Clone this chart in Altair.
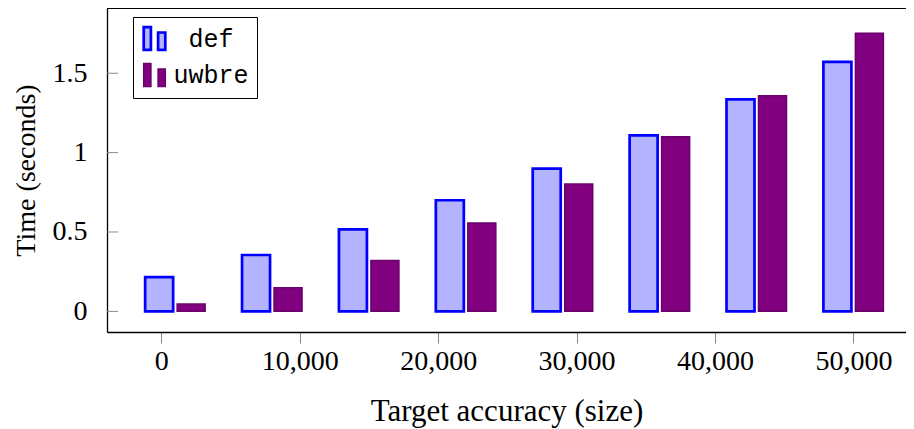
import altair as alt
import pandas as pd

# ---- data ----
sizes = [1000, 8000, 15000, 22000, 29000, 36000, 43000, 50000]
def_times = [0.216, 0.355, 0.517, 0.700, 0.899, 1.109, 1.336, 1.571]
uwbre_times = [0.046, 0.149, 0.321, 0.556, 0.802, 1.100, 1.359, 1.752]
series_names = ["def", "uwbre"]
x_ticks = [0, 10000, 20000, 30000, 40000, 50000]
y_ticks = [0, 0.5, 1, 1.5]

df = pd.DataFrame(
    {"size": sizes * 2,
     "time": def_times + uwbre_times,
     "series": ["def"] * len(sizes) + ["uwbre"] * len(sizes)}
)
yt = pd.DataFrame({"v": y_ticks})

W, H = 799, 324
SERIF = "Liberation Serif"

xscale = alt.Scale(domain=[-3923, 53800], nice=False, zero=False, padding=0)
yscale = alt.Scale(domain=[-0.130, 1.911], nice=False, zero=False, padding=0)

leg = alt.Legend(title=None)
fill_enc = alt.Fill("series:N", scale=alt.Scale(domain=series_names, range=["#b3b3ff", "#800080"]), legend=leg)
stroke_enc = alt.Stroke("series:N", scale=alt.Scale(domain=series_names, range=["#0000ff", "#6a006a"]), legend=leg)
sw_enc = alt.StrokeWidth("series:N", scale=alt.Scale(domain=series_names, range=[2.7, 1.5]), legend=leg)

x_enc = alt.X("size:Q", scale=xscale,
              axis=alt.Axis(values=x_ticks, format=",d", title="Target accuracy (size)",
                            labelFontSize=28, titleFontSize=31, tickSize=11,
                            tickColor="#888888", tickWidth=1, labelPadding=4,
                            titlePadding=21, domainColor="black", domainWidth=1.3,
                            grid=False, labelFlush=False))
y_enc = alt.Y("time:Q", scale=yscale,
              axis=alt.Axis(values=y_ticks, labelExpr="format(datum.value, '~g')",
                            title="Time (seconds)", labelFontSize=28, titleFontSize=28,
                            ticks=False, labelPadding=20, titlePadding=12,
                            domainColor="black", domainWidth=1.3, grid=False))

base = alt.Chart(df).encode(x=x_enc, y=y_enc, y2=alt.datum(0), fill=fill_enc, stroke=stroke_enc, strokeWidth=sw_enc)

bars_def = base.transform_filter(alt.datum.series == "def").mark_bar(width=28, xOffset=-16)
bars_uw = base.transform_filter(alt.datum.series == "uwbre").mark_bar(width=28, xOffset=16)

top_border = alt.Chart(yt).mark_rule(color="black", strokeWidth=1.3).encode(
    x=alt.value(0), x2=alt.value(W), y=alt.value(0))

left_ticks = alt.Chart(yt).mark_rule(color="#888888", strokeWidth=1).encode(
    y=alt.Y("v:Q", scale=yscale), x=alt.value(0), x2=alt.value(11))

legend_path = "M-0.9,-0.95H-0.3V0.95H-0.9Z M0.3,-0.5H0.9V0.95H0.3Z"

chart = alt.layer(bars_def, bars_uw, top_border, left_ticks).properties(
    width=W, height=H,
    autosize=alt.AutoSizeParams(type="none"),
    padding={"left": 99, "top": 0, "right": 0, "bottom": 97},
).configure_view(stroke=None).configure(
    font=SERIF
).configure_axis(
    labelFont=SERIF, titleFont=SERIF, labelColor="black", titleColor="black",
    titleFontWeight="normal"
).configure_legend(
    orient="none", legendX=26, legendY=9,
    strokeColor="black", fillColor="white", padding=8,
    labelFont="Liberation Mono", labelFontSize=25, labelColor="black",
    labelAlign="center", labelOffset=43,
    symbolType=legend_path, symbolSize=576, rowPadding=4,
)

chart.save("out.html", embed_options={"renderer": "svg", "actions": False})
